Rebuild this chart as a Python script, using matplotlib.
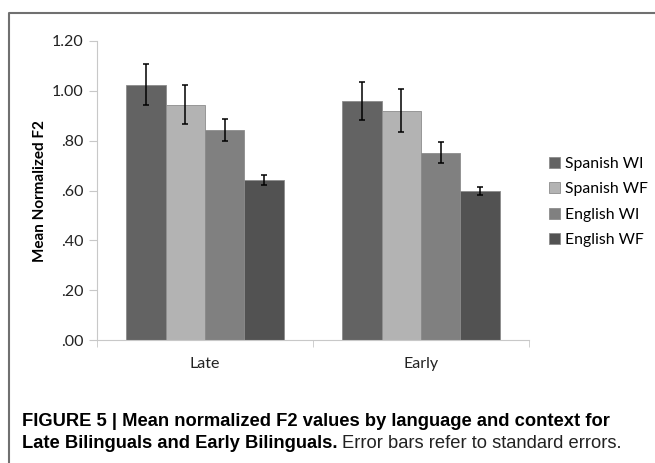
import numpy as np
import matplotlib; matplotlib.use("Agg")
import matplotlib.pyplot as plt
from matplotlib.lines import Line2D

groups = ["Late", "Early"]
series = ["Spanish WI", "Spanish WF", "English WI", "English WF"]
means = {
    "Spanish WI": [1.024, 0.960],
    "Spanish WF": [0.945, 0.921],
    "English WI": [0.842, 0.752],
    "English WF": [0.642, 0.597],
}
errs = {
    "Spanish WI": [0.082, 0.076],
    "Spanish WF": [0.080, 0.088],
    "English WI": [0.044, 0.041],
    "English WF": [0.020, 0.016],
}
colors = ["#636363", "#b3b3b3", "#808080", "#525252"]
yticks = [0, 0.2, 0.4, 0.6, 0.8, 1.0, 1.2]
ytick_labels = [".00", ".20", ".40", ".60", ".80", "1.00", "1.20"]
caption1 = "FIGURE 5 | Mean normalized F2 values by language and context for"
caption2a = "Late Bilinguals and Early Bilinguals."
caption2b = "Error bars refer to standard errors."

W, H = 655, 463
fig = plt.figure(figsize=(W/100, H/100), dpi=100)
fig.patch.set_facecolor("white")
ax = fig.add_axes([97/W, 1-340/H, 432/W, 299/H])

bw = 1/5.5
x = np.arange(len(groups)) + 0.5
for i, s in enumerate(series):
    ax.bar(x + (i-1.5)*bw, means[s], bw, color=colors[i], edgecolor="#8c8c8c", lw=0.6,
           yerr=errs[s], error_kw=dict(ecolor="black", elinewidth=1.1, capsize=2.5, capthick=1.1),
           label=s, zorder=2)

ax.set_xlim(0, 2); ax.set_ylim(0, 1.2)
ax.set_yticks(yticks); ax.set_yticklabels(ytick_labels, fontsize=11.5, family="Lato", color="#222222")
ax.set_xticks(x); ax.set_xticklabels(groups, fontsize=11.5, family="Lato", color="#222222")
ax.set_xticks([0, 1, 2], minor=True)
ax.tick_params(axis="x", which="major", length=0, pad=12)
ax.tick_params(axis="x", which="minor", length=5, color="#c8c8c8")
ax.tick_params(axis="y", length=6, color="#c8c8c8", pad=4)
for sp in ["top", "right"]:
    ax.spines[sp].set_visible(False)
ax.spines["left"].set_color("#c8c8c8"); ax.spines["bottom"].set_color("#c8c8c8")
ax.set_ylabel("Mean Normalized F2", fontsize=11, fontweight="bold", family="Lato", labelpad=3)

leg = fig.legend(loc="center left", bbox_to_anchor=(535/W, 1-202/H), frameon=False,
                 prop=dict(family="Lato", size=11.3), handlelength=0.7, handleheight=0.7,
                 handletextpad=0.3, labelspacing=0.74)

# border lines (left and top)
fig.add_artist(Line2D([9/W, 9/W, 1], [0, 1-13/H, 1-13/H], color="#707070", lw=1.5))

cap = "Liberation Sans"
t1 = fig.text(22/W, 1-421/H, caption1, fontsize=13, fontweight="bold", family=cap, va="center")
fig.canvas.draw()
fs = 13 * 586 / t1.get_window_extent().width
t1.set_fontsize(fs)
t2 = fig.text(22/W, 1-443/H, caption2a, fontsize=fs, fontweight="bold", family=cap, va="center")
fig.canvas.draw()
bb = t2.get_window_extent()
fig.text((bb.x1 + 4)/W, 1-443/H, caption2b, fontsize=fs, family=cap, va="center", color="#222222")

fig.savefig("out.png", dpi=100, facecolor="white")
